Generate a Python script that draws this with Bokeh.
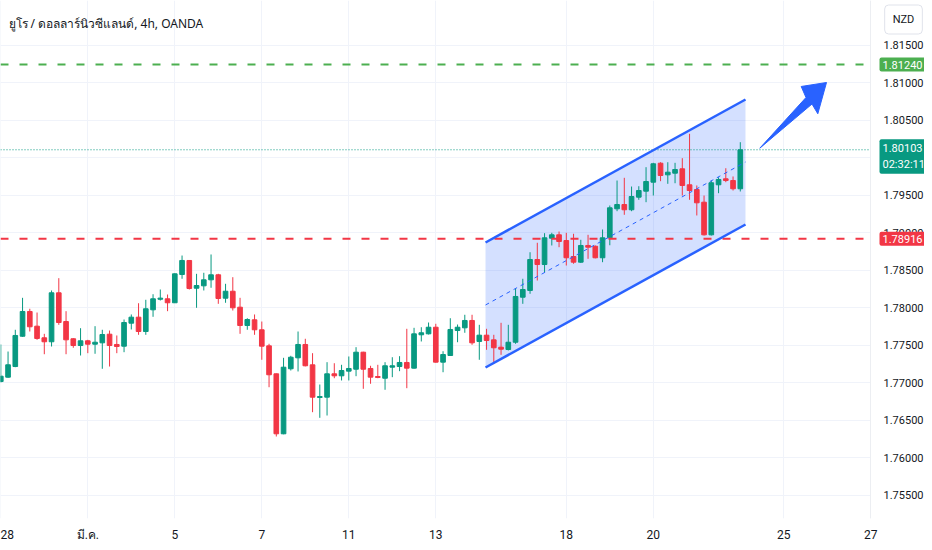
from bokeh.plotting import figure
from bokeh.models import Range1d, FixedTicker, Label, ColumnDataSource
from bokeh.embed import file_html
from bokeh.resources import INLINE
from bokeh.core.properties import value

# ---- data (EUR/NZD 4h candles) ----
opens = [1.77013, 1.77071, 1.77213, 1.77617, 1.77947, 1.77751, 1.77596, 1.77543, 1.78196, 1.77813,
         1.77583, 1.77493, 1.77556, 1.77511, 1.77529, 1.77644, 1.77507, 1.77484, 1.77791, 1.77871,
         1.77680, 1.77969, 1.78110, 1.78116, 1.78063, 1.78440, 1.78627, 1.78257, 1.78289, 1.78369,
         1.78436, 1.78124, 1.78217, 1.78004, 1.77760, 1.77836, 1.77703, 1.77489, 1.77116, 1.76316,
         1.77183, 1.77329, 1.77507, 1.77236, 1.76800, 1.76804, 1.77116, 1.77089, 1.77151, 1.77177,
         1.77404, 1.77187, 1.77080, 1.77057, 1.77204, 1.77213, 1.77267, 1.77191, 1.77636, 1.77649,
         1.77737, 1.77271, 1.77360, 1.77693, 1.77729, 1.77827, 1.77547, 1.77631, 1.77569, 1.77471,
         1.77440, 1.77537, 1.78137, 1.78227, 1.78640, 1.78573, 1.78924, 1.78969, 1.78893, 1.78680,
         1.78604, 1.78827, 1.78817, 1.78663, 1.78929, 1.79316, 1.79373, 1.79303, 1.79471, 1.79551,
         1.79671, 1.79924, 1.79769, 1.79791, 1.79849, 1.79636, 1.79573, 1.79404, 1.78969, 1.79636,
         1.79716, 1.79693, 1.79583]
highs = [1.77507, 1.77413, 1.77703, 1.78129, 1.77983, 1.77933, 1.77649, 1.78227, 1.78391, 1.77951,
         1.77591, 1.77724, 1.77569, 1.77751, 1.77703, 1.77693, 1.77627, 1.77840, 1.77907, 1.78057,
         1.78103, 1.78177, 1.78240, 1.78173, 1.78455, 1.78693, 1.78633, 1.78449, 1.78463, 1.78707,
         1.78449, 1.78316, 1.78404, 1.78129, 1.77857, 1.77907, 1.77813, 1.77516, 1.77120, 1.77329,
         1.77356, 1.77680, 1.77583, 1.77391, 1.76973, 1.77271, 1.77257, 1.77236, 1.77347, 1.77471,
         1.77410, 1.77223, 1.77236, 1.77271, 1.77337, 1.77351, 1.77716, 1.77729, 1.77737, 1.77800,
         1.77783, 1.77417, 1.77857, 1.77773, 1.77903, 1.77903, 1.77769, 1.77716, 1.77636, 1.77796,
         1.77769, 1.78253, 1.78383, 1.78737, 1.78863, 1.78991, 1.78996, 1.79013, 1.78996, 1.78983,
         1.78903, 1.78969, 1.78827, 1.79040, 1.79360, 1.79693, 1.79729, 1.79613, 1.79617, 1.79871,
         1.79929, 1.79937, 1.79937, 1.79929, 1.79991, 1.80316, 1.79627, 1.79493, 1.79693, 1.79737,
         1.79857, 1.79747, 1.80204]
lows = [1.77000, 1.77063, 1.77204, 1.77610, 1.77680, 1.77569, 1.77377, 1.77480, 1.77769, 1.77377,
        1.77463, 1.77360, 1.77391, 1.77383, 1.77183, 1.77213, 1.77391, 1.77404, 1.77707, 1.77636,
        1.77636, 1.77876, 1.78093, 1.77951, 1.78060, 1.78383, 1.78240, 1.77996, 1.78227, 1.78263,
        1.78049, 1.78063, 1.77960, 1.77649, 1.77703, 1.77636, 1.77303, 1.76937, 1.76280, 1.76310,
        1.77160, 1.77147, 1.77215, 1.76604, 1.76529, 1.76560, 1.77057, 1.77027, 1.77027, 1.77084,
        1.76916, 1.76983, 1.77057, 1.76903, 1.77071, 1.77151, 1.76924, 1.77185, 1.77547, 1.77640,
        1.77265, 1.77137, 1.77355, 1.77537, 1.77663, 1.77503, 1.77303, 1.77436, 1.77249, 1.77369,
        1.77427, 1.77516, 1.78049, 1.78183, 1.78360, 1.78471, 1.78827, 1.78804, 1.78560, 1.78583,
        1.78595, 1.78649, 1.78655, 1.78604, 1.78830, 1.79284, 1.79236, 1.79284, 1.79436, 1.79404,
        1.79493, 1.79684, 1.79649, 1.79657, 1.79493, 1.79436, 1.79227, 1.78960, 1.78960, 1.79524,
        1.79671, 1.79560, 1.79547]
closes = [1.77084, 1.77236, 1.77627, 1.77947, 1.77743, 1.77587, 1.77543, 1.78196, 1.77800, 1.77569,
          1.77493, 1.77556, 1.77511, 1.77537, 1.77640, 1.77493, 1.77480, 1.77800, 1.77871, 1.77680,
          1.77983, 1.78116, 1.78125, 1.78063, 1.78449, 1.78627, 1.78253, 1.78293, 1.78369, 1.78436,
          1.78120, 1.78217, 1.77996, 1.77760, 1.77840, 1.77703, 1.77484, 1.77103, 1.76316, 1.77204,
          1.77337, 1.77507, 1.77223, 1.76804, 1.76813, 1.77116, 1.77089, 1.77160, 1.77187, 1.77404,
          1.77177, 1.77071, 1.77067, 1.77223, 1.77223, 1.77267, 1.77191, 1.77649, 1.77663, 1.77737,
          1.77271, 1.77373, 1.77707, 1.77737, 1.77827, 1.77529, 1.77631, 1.77560, 1.77463, 1.77444,
          1.77537, 1.78147, 1.78240, 1.78640, 1.78573, 1.78929, 1.78969, 1.78880, 1.78663, 1.78604,
          1.78827, 1.78804, 1.78663, 1.78929, 1.79329, 1.79373, 1.79303, 1.79480, 1.79560, 1.79680,
          1.79916, 1.79760, 1.79804, 1.79840, 1.79627, 1.79560, 1.79396, 1.78969, 1.79663, 1.79707,
          1.79693, 1.79583, 1.80103]

tick_bars = [0, 12, 24, 36, 48, 60, 78, 90, 108, 120]
tick_labels = ["28", "มี.ค.", "5", "7", "11", "13", "18", "20", "25", "27"]
price_ticks = [1.755, 1.760, 1.765, 1.770, 1.775, 1.780, 1.785, 1.790, 1.795, 1.800, 1.805, 1.810, 1.815]

target_level = 1.81240
support_level = 1.78916
last_price = 1.80103
countdown = "02:32:11"
title_text = "ยูโร / ดอลลาร์นิวซีแลนด์, 4h, OANDA"
currency = "NZD"

# drawn channel (bar index, price)
channel_x = [66.86, 102.72]
channel_upper = [1.78867, 1.80773]
channel_lower = [1.77200, 1.79107]

# drawn arrow outline (bar index, price)
arrow_x = [104.69, 111.06, 110.40, 113.89, 112.69, 111.89]
arrow_y = [1.80124, 1.80800, 1.80947, 1.81000, 1.80583, 1.80713]

GREEN = "#089981"
RED = "#F23645"
LGREEN = "#4CAF50"
BLUE = "#2962FF"
TXT = "#131722"
GRID = "#f0f3fa"

# ---- layout: the frame covers the chart pane and the price-scale column ----
FRAME_W, FRAME_H = 924, 518
PX_PER_BAR = 7.25
PX_PER_PRICE = 7500.0
x_start = -0.3 / PX_PER_BAR
x_end = x_start + FRAME_W / PX_PER_BAR
y_top = 1.78 + 307 / PX_PER_PRICE
y_bot = y_top - FRAME_H / PX_PER_PRICE

def px_x(px):
    return x_start + px / PX_PER_BAR

def px_y(py):
    return y_top - py / PX_PER_PRICE

pane_edge = px_x(870)      # left edge of the price-scale column

p = figure(frame_width=FRAME_W, frame_height=FRAME_H, output_backend="svg", toolbar_location=None,
           x_range=Range1d(x_start, x_end), y_range=Range1d(y_bot, y_top),
           y_axis_location=None, min_border_left=0, min_border_top=0,
           min_border_right=0, min_border_bottom=24)
p.outline_line_color = None
p.background_fill_color = "white"
p.border_fill_color = "white"

p.xgrid.ticker = FixedTicker(ticks=tick_bars)
p.xgrid.grid_line_color = GRID
p.ygrid.ticker = FixedTicker(ticks=price_ticks)
p.ygrid.grid_line_color = GRID

xa = p.xaxis[0]
xa.ticker = FixedTicker(ticks=tick_bars)
xa.major_label_overrides = {b: l for b, l in zip(tick_bars, tick_labels)}
xa.axis_line_color = None
xa.major_tick_line_color = None
xa.minor_tick_line_color = None
xa.major_label_text_color = TXT
xa.major_label_text_font = "Roboto"
xa.major_label_text_font_size = "12px"
xa.major_label_standoff = 3

# channel fill
p.patch(x=[channel_x[0], channel_x[1], channel_x[1], channel_x[0]],
        y=[channel_upper[0], channel_upper[1], channel_lower[1], channel_lower[0]],
        fill_color=BLUE, fill_alpha=0.2, line_color=None)

# candles
idx = list(range(len(opens)))
colors = [GREEN if c >= o else RED for o, c in zip(opens, closes)]
src = ColumnDataSource(dict(x=idx, o=opens, h=highs, l=lows, c=closes,
                            top=[max(o, c) for o, c in zip(opens, closes)],
                            bottom=[min(o, c) for o, c in zip(opens, closes)],
                            color=colors))
p.segment(x0="x", y0="l", x1="x", y1="h", line_color="color", line_width=1, source=src)
p.vbar(x="x", width=0.64, top="top", bottom="bottom", fill_color="color", line_color="color",
       line_width=1, source=src)

# horizontal levels (end at the price-scale column)
p.segment(x0=[x_start] * 2, y0=[target_level, support_level], x1=[pane_edge] * 2,
          y1=[target_level, support_level], line_color=[LGREEN, RED], line_width=2, line_dash="8 11")
p.segment(x0=[x_start], y0=[last_price], x1=[pane_edge], y1=[last_price],
          line_color=GREEN, line_width=1, line_dash="1 2")

# channel lines
mid = [(u + l) / 2 for u, l in zip(channel_upper, channel_lower)]
p.line(channel_x, channel_upper, line_color=BLUE, line_width=2.5)
p.line(channel_x, channel_lower, line_color=BLUE, line_width=2.5)
p.line(channel_x, mid, line_color=BLUE, line_width=1, line_dash="4 4")

# arrow
p.patch(x=arrow_x, y=arrow_y, fill_color=BLUE, line_color=BLUE, line_width=1)

# price-scale column
p.quad(left=[pane_edge], right=[x_end], bottom=[y_bot], top=[y_top], fill_color="white", line_color=None)
p.segment(x0=[pane_edge], y0=[y_bot], x1=[pane_edge], y1=[y_top], line_color="#eceef2", line_width=1)
p.text(x=[px_x(883)] * len(price_ticks), y=price_ticks, text=["%.5f" % t for t in price_ticks],
       text_font=value("Roboto"), text_font_size=value("11px"), text_color=TXT,
       text_align="left", text_baseline="middle")

# title
p.add_layout(Label(x=px_x(8), y=px_y(23), text=title_text, text_align="left",
                   text_baseline="middle", text_color=TXT, text_font="Noto Sans",
                   text_font_size="12px"))

# price tags on the scale
def price_tag(y, text, bg):
    p.add_layout(Label(x=px_x(879), y=y, text=text, text_align="left", text_baseline="middle",
                       text_color="white", text_font="Roboto", text_font_size="11px",
                       background_fill_color=bg, padding=3, border_radius=2))

price_tag(target_level, "%.5f" % target_level, LGREEN)
price_tag(support_level, "%.5f" % support_level, RED)
price_tag(px_y(156), "%.5f\n%s" % (last_price, countdown), GREEN)

p.add_layout(Label(x=px_x(903), y=px_y(19), text=currency, text_align="center",
                   text_baseline="middle", text_color=TXT, text_font="Roboto", text_font_size="11px",
                   background_fill_color="white", border_line_color="#e0e3eb", border_radius=4,
                   padding=8))

open("out.html", "w").write(file_html(p, INLINE))
